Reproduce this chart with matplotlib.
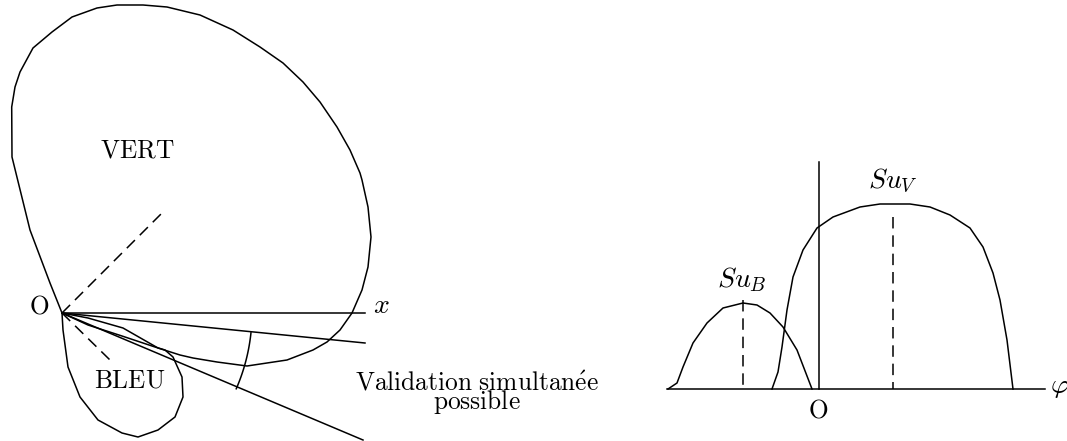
import matplotlib.pyplot as plt
import numpy as np

plt.rcParams['mathtext.fontset'] = 'cm'

# --- left diagram (pixel coords of the picture, y downward) ---
origin = (62, 313)
vert_x = [62, 50, 30, 12, 11.7, 15, 20, 33, 52, 72, 97, 117, 143, 167, 200, 233,
          260, 283, 303, 320, 337, 350, 360, 362, 368, 371, 368, 362, 352, 340,
          327, 313, 287, 267, 247, 217, 193, 180, 158, 123, 88, 62]
vert_y = [313, 283, 230, 157, 107, 87, 72, 48, 32, 17, 8, 5, 5, 7, 15, 30,
          47, 63, 82, 102, 127, 150, 173, 180, 207, 237, 267, 290, 313, 330,
          342, 350, 360, 363, 366, 362, 358, 355, 348, 328, 318, 313]
bleu_x = [62, 63, 68, 80, 98, 122, 138, 158, 175, 183, 182, 173, 165, 155, 122, 88, 62]
bleu_y = [313, 330, 367, 397, 420, 433, 437, 430, 417, 397, 377, 357, 350, 347, 336, 325, 313]
rays_end_x = [365, 365, 363]      # axe x, limite haute, limite basse
rays_end_y = [313, 343, 440]
dash_end_x = [165, 110]           # axes des lobes
dash_end_y = [210, 360]
arc_r = 190
arc_deg = [6, 23.5]

# --- right diagram ---
phi_axis = [667, 1045]
base_y = 389
o_x = 819
o_top = 162
suv_x = [772, 778, 782, 787, 793, 803, 817, 833, 860, 880, 910, 930, 950, 970,
         983, 993, 1000, 1007, 1013]
suv_y = [389, 372, 347, 310, 277, 250, 228, 217, 207, 204, 204, 207, 215, 228,
         247, 273, 300, 340, 389]
sub_x = [668, 677, 683, 693, 707, 723, 743, 757, 770, 783, 797, 812]
sub_y = [389, 383, 367, 343, 323, 308, 303, 305, 313, 327, 350, 389]
suv_peak = (893, 217)
sub_peak = (743, 300)

fig = plt.figure(figsize=(10.67, 4.41), dpi=100)
ax = fig.add_axes([0, 0, 1, 1])
ax.set_xlim(0, 1067)
ax.set_ylim(441, 0)
ax.axis('off')

k = dict(color='black', lw=1.1, solid_joinstyle='round')
dash = (0, (7.5, 4.5))
ax.plot(vert_x, vert_y, **k)
ax.plot(bleu_x, bleu_y, **k)
for ex, ey in zip(rays_end_x, rays_end_y):
    ax.plot([origin[0], ex], [origin[1], ey], **k)
for ex, ey in zip(dash_end_x, dash_end_y):
    ax.plot([origin[0], ex], [origin[1], ey], ls=dash, color='black', lw=1.1)
t = np.radians(np.linspace(arc_deg[0], arc_deg[1], 40))
ax.plot(origin[0] + arc_r * np.cos(t), origin[1] + arc_r * np.sin(t), **k)

fs = 18.3
fm = 20
ax.text(137, 151, r'$\mathrm{VERT}$', fontsize=fs, ha='center', va='center')
ax.text(130, 380, r'$\mathrm{BLEU}$', fontsize=fs, ha='center', va='center')
ax.text(39, 306, r'$\mathrm{O}$', fontsize=fs, ha='center', va='center')
ax.text(373, 313, '$x$', fontsize=fm, ha='left', va='baseline')
ax.text(477, 408.5, r'$\mathrm{Validation\ simultan\acute{e}e}$' + '\n' + r'$\mathrm{possible}$',
        fontsize=fs, ha='center', va='baseline', multialignment='center', linespacing=0.62)

ax.plot(phi_axis, [base_y, base_y], **k)
ax.plot([o_x, o_x], [o_top, base_y], **k)
ax.plot(suv_x, suv_y, **k)
ax.plot(sub_x, sub_y, **k)
ax.plot([suv_peak[0]] * 2, [suv_peak[1], base_y], ls=dash, color='black', lw=1.1)
ax.plot([sub_peak[0]] * 2, [sub_peak[1], base_y], ls=dash, color='black', lw=1.1)
ax.text(893, 188, '$Su_V$', fontsize=fm, ha='center', va='baseline')
ax.text(742, 287, '$Su_B$', fontsize=fm, ha='center', va='baseline')
ax.text(818, 411, r'$\mathrm{O}$', fontsize=fs, ha='center', va='center')
ax.text(1050, 386, r'$\varphi$', fontsize=fm, ha='left', va='center')

fig.savefig('out.png', dpi=100)
